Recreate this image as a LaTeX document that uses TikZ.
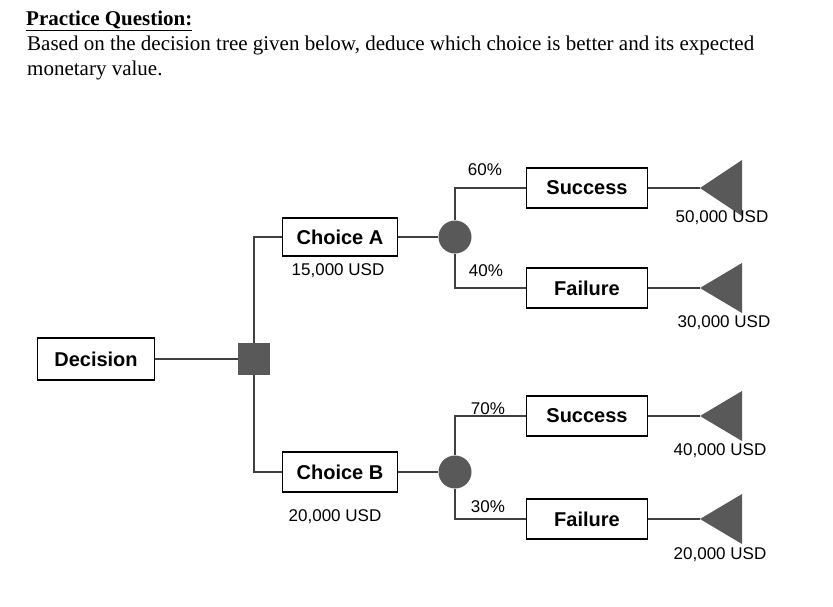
\documentclass[tikz,border=0pt]{standalone}
\usepackage{fontspec}
\setmainfont{Liberation Serif}
\newfontfamily\arial{Liberation Sans}
\begin{document}
\begin{tikzpicture}[x=1pt,y=-1pt,
 box/.style={draw,line width=1.3pt,minimum height=38pt,font=\arial\fontsize{20}{22}\selectfont\bfseries,inner sep=2pt},
 lab/.style={font=\arial\fontsize{17}{19}\selectfont},
 ln/.style={draw=black!75,line width=1.3pt},
 fillg/.style={fill=black!65}]
\useasboundingbox (0,0) rectangle (833,606);
\node[anchor=base west,font=\fontsize{21}{23}\selectfont\bfseries,inner sep=0] (t1) at (26,25) {\underline{Practice Question:}};
\node[anchor=base west,font=\fontsize{21}{23}\selectfont,inner sep=0] (t2) at (27,50) {Based on the decision tree given below, deduce which choice is better and its expected};
\node[anchor=base west,font=\fontsize{21}{23}\selectfont,inner sep=0] (t3) at (27,75) {monetary value.};
\node[box,minimum width=117pt,minimum height=42pt] (dec) at (96,359) {Decision};
\node[fillg,minimum size=32pt,inner sep=0] (sq) at (254,359) {};
\node[box,minimum width=115pt] (ca) at (340,237) {Choice A};
\node[box,minimum width=115pt,minimum height=40pt] (cb) at (340,472) {Choice B};
\node[lab] (va) at (338,271) {15,000 USD};
\node[lab] (vb) at (335,517) {20,000 USD};
\node[fillg,circle,minimum size=33pt,inner sep=0] (c1) at (455,237) {};
\node[fillg,circle,minimum size=33pt,inner sep=0] (c2) at (455,472) {};
\node[box,minimum width=121pt,minimum height=40pt] (s1) at (587,188) {Success};
\node[box,minimum width=121pt,minimum height=40pt] (f1) at (587,288) {Failure};
\node[box,minimum width=121pt,minimum height=40pt] (s2) at (587,416) {Success};
\node[box,minimum width=121pt,minimum height=40pt] (f2) at (587,519) {Failure};
\coordinate (jA) at (254,237); \coordinate (jB) at (254,472);
\coordinate (a1) at (455,188); \coordinate (a2) at (455,288);
\coordinate (b1) at (455,416); \coordinate (b2) at (455,519);
\draw[ln] (dec) -- (sq);
\draw[ln] (ca.west) -- (jA) -- (sq);
\draw[ln] (cb.west) -- (jB) -- (sq);
\draw[ln] (ca) -- (c1); \draw[ln] (cb) -- (c2);
\draw[ln] (c1) -- (a1) -- (s1.west); \draw[ln] (c1) -- (a2) -- (f1.west);
\draw[ln] (c2) -- (b1) -- (s2.west); \draw[ln] (c2) -- (b2) -- (f2.west);
\node[lab] (p1) at (485,170) {60\%};
\node[lab] (p2) at (486,271) {40\%};
\node[lab] (p3) at (488,409) {70\%};
\node[lab] (p4) at (488,507) {30\%};
\coordinate (tip1) at (700,188); \coordinate (tip2) at (700,288);
\coordinate (tip3) at (700,416); \coordinate (tip4) at (700,519);
\fill[black!65] (tip1) -- ++(42,-28) -- ++(0,56) -- cycle;
\fill[black!65] (tip2) -- ++(42,-25) -- ++(0,50) -- cycle;
\fill[black!65] (tip3) -- ++(42,-25) -- ++(0,50) -- cycle;
\fill[black!65] (tip4) -- ++(42,-25) -- ++(0,50) -- cycle;
\node[lab] (v1) at (722,218) {50,000 USD};
\node[lab] (v2) at (724,323) {30,000 USD};
\node[lab] (v3) at (720,451) {40,000 USD};
\node[lab] (v4) at (720,555) {20,000 USD};
\draw[ln] (s1.east) -- (tip1); \draw[ln] (f1.east) -- (tip2);
\draw[ln] (s2.east) -- (tip3); \draw[ln] (f2.east) -- (tip4);
\end{tikzpicture}
\end{document}
